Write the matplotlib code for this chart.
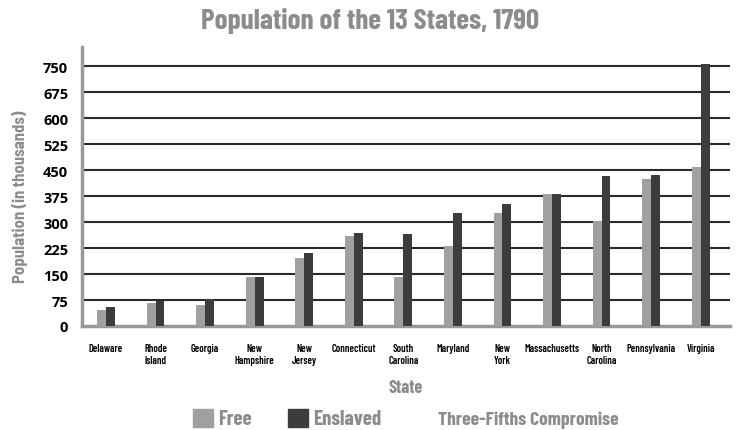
import numpy as np
import matplotlib
matplotlib.use("Agg")
from matplotlib import pyplot as plt
from matplotlib.patches import Rectangle

states = ["Delaware", "Rhode\nIsland", "Georgia", "New\nHampshire", "New\nJersey",
          "Connecticut", "South\nCarolina", "Maryland", "New\nYork", "Massachusetts",
          "North\nCarolina", "Pennsylvania", "Virginia"]
free = [46, 67, 61, 142, 196, 261, 141, 231, 326, 381, 302, 424, 460]
enslaved = [56, 71, 79, 142, 211, 269, 266, 325, 353, 381, 434, 435, 755]
yticks = [0, 75, 150, 225, 300, 375, 450, 525, 600, 675, 750]

cond = ["Barlow Condensed", "Archivo Narrow", "DejaVu Sans"]
semi = ["Barlow Semi Condensed", "DejaVu Sans"]
num = ["Open Sans", "DejaVu Sans"]
gray = "#8c8c8c"
c_free = "#a0a0a0"
c_ens = "#3c3c3c"

fig = plt.figure(figsize=(7.41, 4.31), dpi=100)
ax = fig.add_axes([0.1107, 0.2413, 0.8743, 0.6473])

x = np.arange(len(states))
w = 0.18
ax.bar(x - w/2, free, w, color=c_free, zorder=3)
ax.bar(x + w/2, enslaved, w, color=c_ens, zorder=3)

for v in yticks[1:]:
    ax.axhline(v, color="#2a2a2a", lw=1.5, zorder=1)

ax.set_xlim(-0.484, 12.59)
ax.set_ylim(0, 805)
ax.set_yticks(yticks)
ax.set_yticklabels([str(v) for v in yticks], family=num, fontsize=10.5, fontweight="bold")
ax.tick_params(axis="y", length=0, pad=10)
ax.set_xticks(x)
ax.set_xticklabels(states, family=cond, fontsize=7.5, fontweight="semibold", va="top",
                   linespacing=1.3)
ax.tick_params(axis="x", length=0, pad=12)

for s in ["top", "right"]:
    ax.spines[s].set_visible(False)
ax.spines["left"].set_color("#999999")
ax.spines["left"].set_linewidth(2.5)
ax.spines["bottom"].set_color("#999999")
ax.spines["bottom"].set_linewidth(2.5)

ax.set_ylabel("Population (in thousands)", family=semi, fontsize=12, fontweight="bold",
              color=gray)
ax.yaxis.set_label_coords(-0.083, 0.465)
ax.set_xlabel("State", family=cond, fontsize=13, fontweight="bold", color=gray, labelpad=10)

fig.text(0.5, 0.952, "Population of the 13 States, 1790", family=cond, fontsize=21,
         fontweight="bold", color=gray, ha="center", va="center")

# legend row at the bottom
ly = 1 - 420 / 431
fig.patches.append(Rectangle((193 / 741, 1 - 428 / 431), 20 / 741, 18 / 431,
                             transform=fig.transFigure, color=c_free))
fig.text(218 / 741, ly, "Free", family=cond, fontsize=15, fontweight="bold", color=gray, va="center")
fig.patches.append(Rectangle((288 / 741, 1 - 428 / 431), 20 / 741, 18 / 431,
                             transform=fig.transFigure, color=c_ens))
fig.text(313 / 741, ly, "Enslaved", family=cond, fontsize=15, fontweight="bold", color=gray, va="center")
fig.text(438 / 741, ly, "Three-Fifths Compromise", family=cond, fontsize=14,
         fontweight="bold", color=gray, va="center")

fig.savefig("out.png", dpi=100)
